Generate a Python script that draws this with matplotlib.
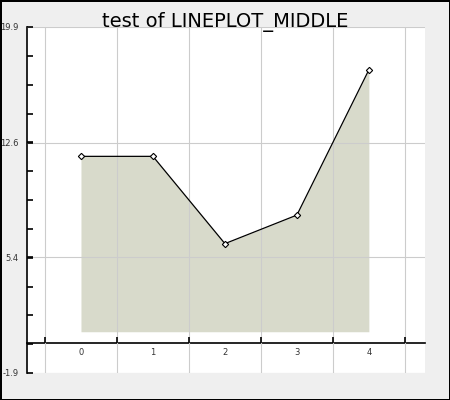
import numpy as np
import matplotlib
matplotlib.use("Agg")
import matplotlib.pyplot as plt
from matplotlib.ticker import FixedLocator

categories = [0, 1, 2, 3, 4]
values = [11.75, 11.75, 6.25, 8.05, 17.2]
fill_base = 0.7
y_labels = [-1.9, 5.4, 12.6, 19.9]

fig = plt.figure(figsize=(4.5, 4.0), dpi=100)
fig.patch.set_facecolor("#efefef")
fig.patch.set_edgecolor("black")
fig.patch.set_linewidth(2)

ax = fig.add_axes([27 / 450, 27 / 400, 398 / 450, 346 / 400])
ax.set_facecolor("white")

x = np.array(categories)
# fill sits under the grid, the line on top
ax.fill_between(x, values, fill_base, color="#d8dacb", lw=0, zorder=0.2)
ax.plot(x, values, color="black", lw=0.9, marker="D", ms=3.2,
        mfc="white", mec="black", mew=0.8, zorder=3)

ax.set_xlim(-0.75, 4.78)
ax.set_ylim(y_labels[0], y_labels[-1])

# x axis sits at y=0, boundaries as major ticks, labels at centers
ax.spines["bottom"].set_position(("data", 0))
ax.spines["top"].set_visible(False)
ax.spines["right"].set_visible(False)
ax.spines["bottom"].set_linewidth(1.2)
ax.spines["left"].set_linewidth(1.2)

bounds = list(np.arange(-0.5, len(categories) + 0.5, 1.0))
ax.xaxis.set_major_locator(FixedLocator(bounds))
ax.xaxis.set_minor_locator(FixedLocator(categories))
ax.set_xticklabels([""] * len(bounds))
ax.set_xticklabels([str(c) for c in categories], minor=True)
ax.tick_params(axis="x", which="major", direction="in", length=4, width=1.2)
ax.tick_params(axis="x", which="minor", length=0, pad=4,
               labelsize=6, labelcolor="#333333")

ax.yaxis.set_major_locator(FixedLocator(y_labels))
minor_y = np.linspace(y_labels[0], y_labels[-1], 13)
ax.yaxis.set_minor_locator(FixedLocator(minor_y))
ax.set_yticklabels([str(v) for v in y_labels])
ax.tick_params(axis="y", which="both", direction="in", length=4, width=1.2,
               labelsize=6, labelcolor="#333333", pad=6)

ax.set_axisbelow(False)
ax.grid(True, which="major", color="#cccccc", lw=0.8, zorder=1)
for gl in ax.get_xgridlines() + ax.get_ygridlines():
    gl.set_zorder(1)

fig.text(0.5, 0.945, "test of LINEPLOT_MIDDLE", ha="center", va="center",
         fontsize=14)

fig.savefig("out.png", dpi=100, facecolor=fig.get_facecolor(),
            edgecolor=fig.get_edgecolor())
